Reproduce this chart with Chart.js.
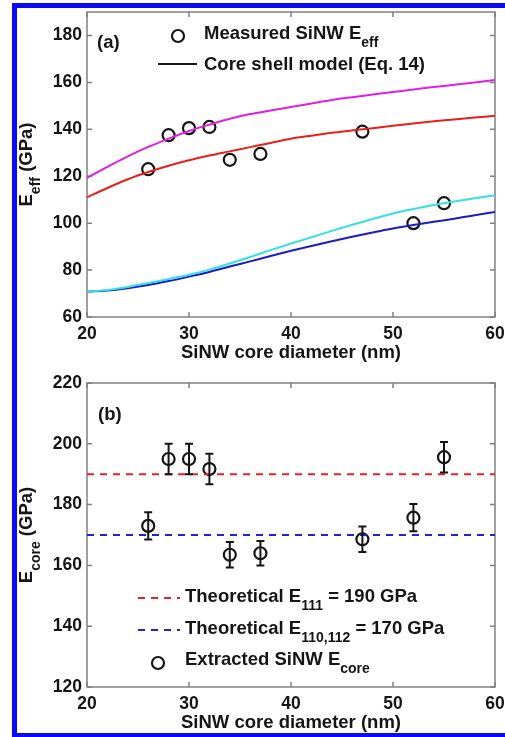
<!DOCTYPE html>
<html>
<head>
<meta charset="utf-8">
<script src="https://cdn.jsdelivr.net/npm/chart.js@4.4.0/dist/chart.umd.min.js"></script>
<style>
  html, body { margin: 0; padding: 0; background: #fff; overflow: hidden; }
  body { width: 505px; height: 737px; position: relative; }
  canvas { position: absolute; left: 0; }
  #frame { position: absolute; left: 12px; top: 3px; width: 600px; height: 735px;
           box-sizing: border-box; border: 5px solid #0a0af5; border-right: none; pointer-events: none; }
</style>
</head>
<body>
<canvas id="chartA" width="505" height="368" style="top:0"></canvas>
<canvas id="chartB" width="505" height="369" style="top:368px"></canvas>
<div id="frame"></div>
<script>
// measured nanowires
const xMeas = [26, 28, 30, 32, 34, 37, 47, 52, 55];
const eEff = [123, 137.5, 140.5, 141, 127, 129.5, 139, 100, 108.5];
const eCore = [173, 195, 195, 191.7, 163.5, 164, 168.6, 175.7, 195.6];
const eCoreErr = [4.5, 5, 5, 5, 4.2, 4, 4.2, 4.5, 5];

// core shell model curves
const xModel = [20, 22, 24, 26, 28, 30, 32, 34, 36, 38, 40, 42, 44, 46, 48, 50, 52, 54, 56, 58, 60];
const magentaCurve = [119.3, 124, 128.5, 132.5, 136, 139.3, 142, 144.5, 146.5, 148, 149.5, 151, 152.5, 153.7, 154.8, 155.9, 157, 158, 159, 160, 161];
const redCurve = [111, 115, 118.7, 121.8, 124.5, 126.8, 128.8, 130.6, 132.4, 134.2, 136, 137.3, 138.5, 139.5, 140.5, 141.5, 142.5, 143.4, 144.2, 145, 145.8];
const cyanCurve = [70.8, 71.5, 72.8, 74.5, 76.2, 78, 80.2, 82.8, 85.6, 88.5, 91.3, 94, 96.7, 99.3, 101.8, 104.1, 106, 107.7, 109.2, 110.6, 111.9];
const blueCurve = [70.8, 71.3, 72.3, 73.6, 75.3, 77.2, 79.2, 81.5, 83.7, 86, 88.2, 90.3, 92.3, 94.2, 96, 97.7, 99.2, 100.6, 101.9, 103.4, 104.8];

const e111 = 190;
const e110 = 170;

const xTicks = [20, 30, 40, 50, 60];
const yTicksA = [60, 80, 100, 120, 140, 160, 180];
const yTicksB = [120, 140, 160, 180, 200, 220];

const FONT = '"Liberation Sans", Arial, Helvetica, sans-serif';
const INK = '#151515';
const BIG = 'bold 18.5px ' + FONT;
const SMALL = 'bold 14px ' + FONT;

const pts = (xs, ys) => xs.map((x, i) => ({x: x, y: ys[i]}));

function textWidth(ctx, main, sub, rest) {
  ctx.font = BIG;
  let w = ctx.measureText(main).width + ctx.measureText(rest || '').width;
  ctx.font = SMALL;
  return w + ctx.measureText(sub).width;
}

function subText(ctx, x, y, main, sub, rest) {
  ctx.fillStyle = INK;
  ctx.textAlign = 'left';
  ctx.textBaseline = 'middle';
  ctx.font = BIG;
  ctx.fillText(main, x, y);
  let w = ctx.measureText(main).width;
  ctx.font = SMALL;
  ctx.fillText(sub, x + w, y + 9);
  w += ctx.measureText(sub).width;
  if (rest) {
    ctx.font = BIG;
    ctx.fillText(rest, x + w, y);
  }
}

function plainText(ctx, s, x, y, align) {
  ctx.fillStyle = INK;
  ctx.font = BIG;
  ctx.textAlign = align || 'left';
  ctx.textBaseline = 'middle';
  ctx.fillText(s, x, y);
}

function circle(ctx, x, y) {
  ctx.beginPath();
  ctx.arc(x, y, 6, 0, Math.PI * 2);
  ctx.strokeStyle = INK;
  ctx.lineWidth = 2.2;
  ctx.stroke();
}

function seg(ctx, x1, x2, y, color, dash) {
  ctx.save();
  ctx.beginPath();
  ctx.setLineDash(dash || []);
  ctx.moveTo(x1, y);
  ctx.lineTo(x2, y);
  ctx.strokeStyle = color;
  ctx.lineWidth = 2;
  ctx.stroke();
  ctx.restore();
}

// box + inward tick marks, matlab style
const boxPlugin = {
  id: 'box',
  beforeDatasetsDraw(chart) {
    const {ctx, chartArea: a, scales: {x, y}} = chart;
    ctx.save();
    ctx.strokeStyle = '#808080';
    ctx.lineWidth = 1.5;
    ctx.strokeRect(a.left, a.top, a.right - a.left, a.bottom - a.top);
    ctx.beginPath();
    x.ticks.forEach(t => {
      const px = x.getPixelForValue(t.value);
      ctx.moveTo(px, a.bottom); ctx.lineTo(px, a.bottom - 5);
      ctx.moveTo(px, a.top); ctx.lineTo(px, a.top + 5);
    });
    y.ticks.forEach(t => {
      const py = y.getPixelForValue(t.value);
      ctx.moveTo(a.left, py); ctx.lineTo(a.left + 5, py);
      ctx.moveTo(a.right, py); ctx.lineTo(a.right - 5, py);
    });
    ctx.stroke();
    ctx.restore();
  }
};

function axisTitles(chart, ySub) {
  const {ctx, chartArea: a} = chart;
  ctx.save();
  plainText(ctx, 'SiNW core diameter (nm)', (a.left + a.right) / 2, a.bottom + 36, 'center');
  const w = textWidth(ctx, 'E', ySub, ' (GPa)');
  ctx.translate(27, (a.top + a.bottom) / 2);
  ctx.rotate(-Math.PI / 2);
  subText(ctx, -w / 2, 0, 'E', ySub, ' (GPa)');
  ctx.restore();
}

const decorA = {
  id: 'decorA',
  afterDraw(chart) {
    const ctx = chart.ctx;
    axisTitles(chart, 'eff');
    ctx.save();
    plainText(ctx, '(a)', 97, 43);
    circle(ctx, 178, 36);
    subText(ctx, 204, 34, 'Measured SiNW E', 'eff', '');
    seg(ctx, 158, 197, 64, INK);
    plainText(ctx, 'Core shell model (Eq. 14)', 204, 65);
    ctx.restore();
  }
};

const decorB = {
  id: 'decorB',
  afterDatasetsDraw(chart) {
    const {ctx, scales: {x, y}} = chart;
    ctx.save();
    ctx.strokeStyle = INK;
    ctx.lineWidth = 2;
    ctx.beginPath();
    xMeas.forEach((xv, i) => {
      const px = x.getPixelForValue(xv);
      const top = y.getPixelForValue(eCore[i] + eCoreErr[i]);
      const bot = y.getPixelForValue(eCore[i] - eCoreErr[i]);
      ctx.moveTo(px, top); ctx.lineTo(px, bot);
      ctx.moveTo(px - 4, top); ctx.lineTo(px + 4, top);
      ctx.moveTo(px - 4, bot); ctx.lineTo(px + 4, bot);
    });
    ctx.stroke();
    ctx.restore();
  },
  afterDraw(chart) {
    const ctx = chart.ctx;
    axisTitles(chart, 'core');
    ctx.save();
    plainText(ctx, '(b)', 98, 47);
    seg(ctx, 138, 180, 230, '#e8202a', [7, 6]);
    subText(ctx, 185, 229, 'Theoretical E', '111', ' = 190 GPa');
    seg(ctx, 138, 180, 262, '#2222d0', [7, 6]);
    subText(ctx, 185, 261, 'Theoretical E', '110,112', ' = 170 GPa');
    circle(ctx, 158, 295);
    subText(ctx, 185, 292, 'Extracted SiNW E', 'core', '');
    ctx.restore();
  }
};

function scalesFor(yMin, yMax, yTicks, xHeight) {
  const tickFont = {family: FONT, size: 17.5, weight: 'bold'};
  return {
    x: {
      type: 'linear', min: 20, max: 60,
      afterBuildTicks: s => { s.ticks = xTicks.map(v => ({value: v})); },
      afterFit: s => { s.height = xHeight; s.paddingRight = 0; s.paddingLeft = 0; },
      grid: {display: false, drawTicks: false},
      border: {display: false},
      ticks: {font: tickFont, color: INK, padding: 7, maxRotation: 0}
    },
    y: {
      type: 'linear', min: yMin, max: yMax,
      afterBuildTicks: s => { s.ticks = yTicks.map(v => ({value: v})); },
      afterFit: s => { s.width = 87; s.paddingTop = 0; s.paddingBottom = 0; },
      grid: {display: false, drawTicks: false},
      border: {display: false},
      ticks: {font: tickFont, color: INK, padding: 5}
    }
  };
}

const curve = (ys, color) => ({
  data: pts(xModel, ys), showLine: true, borderColor: color, borderWidth: 2,
  pointRadius: 0, cubicInterpolationMode: 'monotone', fill: false
});

const markers = ys => ({
  data: pts(xMeas, ys), showLine: false, pointRadius: 6, pointBorderWidth: 2.2,
  pointBorderColor: INK, pointBackgroundColor: 'rgba(0,0,0,0)'
});

new Chart(document.getElementById('chartA'), {
  type: 'scatter',
  data: {
    datasets: [
      curve(magentaCurve, '#e020e0'),
      curve(redCurve, '#e8201c'),
      curve(cyanCurve, '#35e0e0'),
      curve(blueCurve, '#1c1cc4'),
      markers(eEff)
    ]
  },
  options: {
    responsive: false, animation: false,
    layout: {padding: {top: 12, right: 10, left: 0, bottom: 0}},
    plugins: {legend: {display: false}, tooltip: {enabled: false}},
    scales: scalesFor(60, 190, yTicksA, 51)
  },
  plugins: [boxPlugin, decorA]
});

new Chart(document.getElementById('chartB'), {
  type: 'scatter',
  data: {
    datasets: [
      {data: pts([20, 60], [e111, e111]), showLine: true, borderColor: '#e8202a', borderWidth: 2,
       borderDash: [7, 6], pointRadius: 0},
      {data: pts([20, 60], [e110, e110]), showLine: true, borderColor: '#2222d0', borderWidth: 2,
       borderDash: [7, 6], pointRadius: 0},
      markers(eCore)
    ]
  },
  options: {
    responsive: false, animation: false,
    layout: {padding: {top: 15, right: 10, left: 0, bottom: 0}},
    plugins: {legend: {display: false}, tooltip: {enabled: false}},
    scales: scalesFor(120, 220, yTicksB, 50)
  },
  plugins: [boxPlugin, decorB]
});
</script>
</body>
</html>
